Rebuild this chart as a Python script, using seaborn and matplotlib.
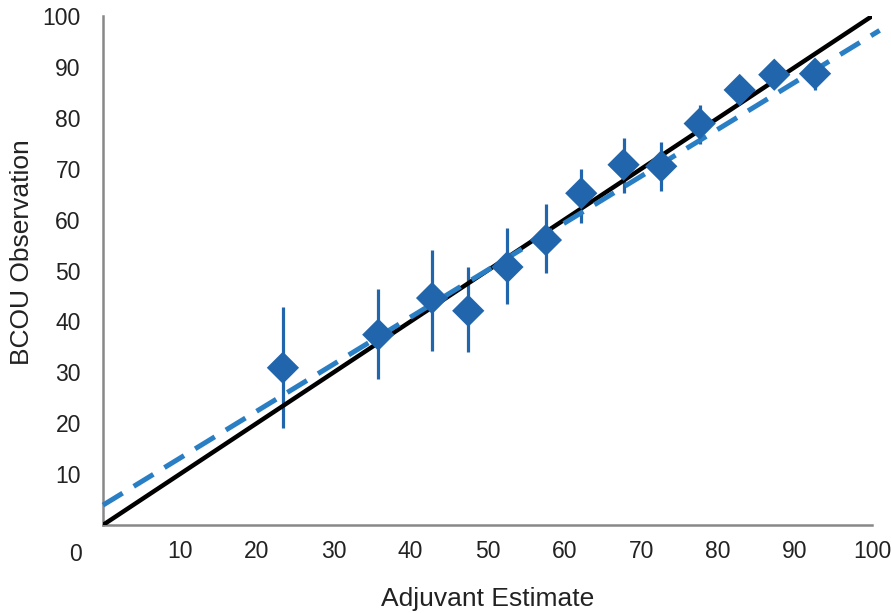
import numpy as np
import matplotlib
matplotlib.use("Agg")
import matplotlib.pyplot as plt
import seaborn as sns

# data
adjuvant = [23.4, 35.8, 42.8, 47.5, 52.6, 57.6, 62.2, 67.7, 72.6, 77.6, 82.8, 87.3, 92.6]
bcou = [30.9, 37.4, 44.6, 42.1, 50.7, 56.0, 65.2, 70.8, 70.5, 78.9, 85.5, 88.5, 88.7]
err_hi = [42.9, 46.4, 54.0, 50.7, 58.3, 63.0, 69.9, 76.1, 75.3, 82.6, 87.4, 90.0, 90.8]
err_lo = [19.0, 28.6, 34.2, 33.9, 43.4, 49.5, 59.3, 65.2, 65.6, 74.9, 83.6, 86.7, 85.5]
identity_x = [0, 100]
identity_y = [0, 100]
fit_x = [0, 101]
fit_y = [3.9, 97.2]
ticks = [10, 20, 30, 40, 50, 60, 70, 80, 90, 100]

sns.set_style("white")
plt.rcParams['font.family'] = ['Liberation Sans', 'DejaVu Sans']

blue = "#2166ad"
blue_dash = "#2a7fc4"
txt = "#222222"

fig = plt.figure(figsize=(8.91, 6.13), dpi=100)
ax = fig.add_axes([0.1156, 0.1436, 0.863, 0.830])

# error bars
yerr = np.array([np.array(bcou) - np.array(err_lo), np.array(err_hi) - np.array(bcou)])
ax.errorbar(adjuvant, bcou, yerr=yerr, fmt="none", ecolor=blue, elinewidth=2.3, capsize=0, zorder=2)

# identity line and regression fit
sns.lineplot(x=identity_x, y=identity_y, color="black", linewidth=3.2, ax=ax, zorder=3)
sns.lineplot(x=fit_x, y=fit_y, color=blue_dash, linewidth=3.6, ax=ax, zorder=4)
ax.lines[-1].set_dashes([4.6, 2.6])
ax.lines[-1].set_clip_on(False)

sns.scatterplot(x=adjuvant, y=bcou, marker="D", s=270, color=blue, edgecolor="none", ax=ax, zorder=5)

ax.set_xlim(0, 100)
ax.set_ylim(0, 100)
ax.set_xticks(ticks)
ax.set_yticks(ticks)
ax.tick_params(axis="both", labelsize=16.5, colors="#999999", labelcolor=txt, length=4, width=1)
ax.tick_params(axis="x", direction="inout", pad=9)
ax.tick_params(axis="y", direction="out", pad=12)
ax.text(-0.036, -0.035, "0", transform=ax.transAxes, ha="center", va="top", fontsize=16.5, color=txt)

for side in ["top", "right"]:
    ax.spines[side].set_visible(False)
for side in ["left", "bottom"]:
    ax.spines[side].set_color("#888888")
    ax.spines[side].set_linewidth(1.8)

ax.set_xlabel("Adjuvant Estimate", fontsize=19, color=txt, labelpad=17)
ax.set_ylabel("BCOU Observation", fontsize=19, color=txt)
ax.yaxis.set_label_coords(-0.090, 0.536)

fig.savefig("out.png", dpi=100)
